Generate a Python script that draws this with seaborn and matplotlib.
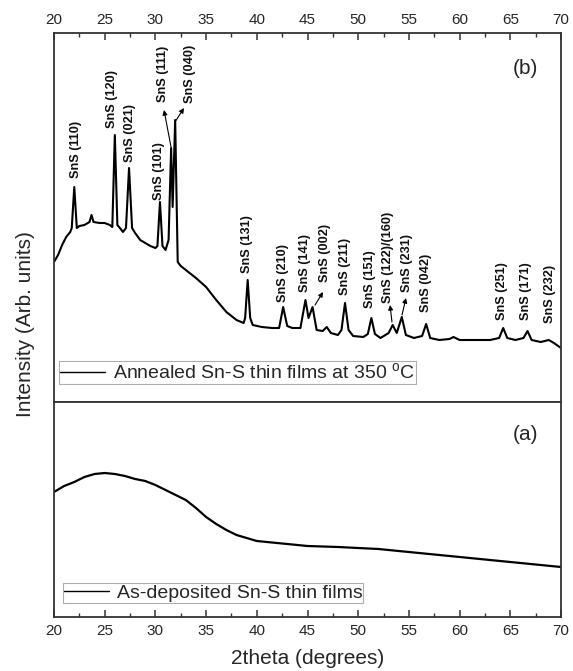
import matplotlib
matplotlib.use("Agg")
import matplotlib.pyplot as plt
import seaborn as sns
import pandas as pd
from matplotlib.ticker import MultipleLocator

sns.set_style("ticks")
plt.rcParams['font.family'] = ['Liberation Sans', 'DejaVu Sans']
plt.rcParams['mathtext.fontset'] = 'custom'
plt.rcParams['mathtext.rm'] = 'Liberation Sans'

# ---------------- data ----------------
# (b) annealed film
ann_2theta = [20.0, 20.4, 20.8, 21.2, 21.6, 21.75, 22.0, 22.25, 22.5, 23.0, 23.5, 23.7, 23.9,
              24.5, 25.0, 25.5, 25.75, 26.0, 26.25, 26.5, 26.8, 27.1, 27.4, 27.7, 28.0, 28.5,
              29.0, 29.5, 30.0, 30.2, 30.45, 30.7, 31.0, 31.3, 31.55, 31.7, 31.95, 32.2, 32.5,
              33.0, 34.0, 35.0, 36.0, 37.0, 38.0, 38.7, 38.85, 39.1, 39.35, 39.6, 40.5, 41.5,
              42.2, 42.6, 43.0, 43.5, 44.3, 44.8, 45.1, 45.5, 45.9, 46.5, 46.9, 47.3, 48.0,
              48.35, 48.7, 49.05, 49.5, 50.5, 50.95, 51.3, 51.65, 52.2, 53.0, 53.4, 53.8, 54.3,
              54.7, 55.5, 56.3, 56.7, 57.1, 58.0, 59.0, 59.4, 60.0, 61.0, 62.0, 63.0, 63.9,
              64.3, 64.7, 65.5, 66.3, 66.7, 67.1, 68.0, 68.8, 69.3, 70.0]
ann_int = [140, 147, 157, 165, 170, 174, 215, 174, 176, 177, 180, 187, 180,
           179, 179, 177, 175, 267, 177, 174, 170, 174, 234, 174, 169, 162,
           159, 156, 154, 156, 200, 156, 152, 162, 254, 195, 282, 140, 136,
           132, 124, 115, 102, 90, 82, 79, 84, 122, 84, 77, 75, 74,
           74, 95, 76, 74, 74, 102, 84, 95, 72, 71, 75, 69, 67,
           72, 99, 72, 66, 65, 68, 84, 68, 64, 69, 77, 69, 85,
           67, 64, 66, 78, 64, 62, 63, 65, 62, 62, 62, 62, 64,
           74, 64, 62, 64, 71, 62, 60, 62, 59, 54]

# (a) as-deposited film
dep_2theta = [20, 21, 22, 23, 24, 25, 26, 27, 28, 29, 30, 31, 32, 33, 34, 35, 36, 37, 38,
              39, 40, 42, 45, 48, 50, 52, 55, 58, 60, 62, 65, 68, 70]
dep_int = [125, 131, 135, 140, 143, 144, 143, 141, 138, 136, 132, 127, 122, 117, 109, 100,
           93, 87, 82, 79, 76, 74, 71, 70, 69, 68, 65, 62, 60, 58, 55, 52, 50]

# peak labels
peak_labels = ["SnS (110)", "SnS (120)", "SnS (021)", "SnS (101)", "SnS (111)", "SnS (040)",
               "SnS (131)", "SnS (210)", "SnS (141)", "SnS (002)", "SnS (211)", "SnS (151)",
               "SnS (122)/(160)", "SnS (231)", "SnS (042)", "SnS (251)", "SnS (171)", "SnS (232)"]
label_x = [22.17, 25.72, 27.5, 30.35, 30.75, 33.4, 39.03, 42.58, 44.75, 46.73, 48.7, 51.16,
           52.94, 54.81, 56.69, 64.18, 66.55, 68.92]
label_y = [224, 274, 240, 202, 300, 299, 129, 100, 110, 120, 107, 94, 99, 110, 90, 82, 82, 79]

# arrows: (tail x, tail y, head x, head y)
arrows = [(31.54, 255, 30.85, 292), (31.93, 280, 32.82, 294), (45.74, 97, 46.53, 110),
          (53.33, 80, 53.14, 97), (54.32, 87, 54.71, 104)]

ann_df = pd.DataFrame({"2theta": ann_2theta, "I": ann_int})
dep_df = pd.DataFrame({"2theta": dep_2theta, "I": dep_int})

# ---------------- figure ----------------
W, H = 573, 671
fig = plt.figure(figsize=(W / 100, H / 100), dpi=100)
L, R = 54 / W, 561 / W
ax_b = fig.add_axes([L, (H - 402) / H, R - L, 369 / H])
ax_a = fig.add_axes([L, (H - 617) / H, R - L, 215 / H])

spine_c = '#333333'
for ax in (ax_a, ax_b):
    ax.set_xlim(20, 70)
    ax.xaxis.set_major_locator(MultipleLocator(5))
    ax.xaxis.set_minor_locator(MultipleLocator(2.5))
    ax.set_yticks([])
    for s in ax.spines.values():
        s.set_color(spine_c)
        s.set_linewidth(1.3)

sns.lineplot(data=ann_df, x="2theta", y="I", ax=ax_b, color='black', lw=1.5,
             label="Annealed Sn-S thin films at 350 $^{\\rm o}$C")
sns.lineplot(data=dep_df, x="2theta", y="I", ax=ax_a, color='black', lw=1.6,
             label="As-deposited Sn-S thin films")

ax_b.set_ylim(0, 369)
ax_a.set_ylim(0, 215)
for ax in (ax_a, ax_b):
    ax.set_xlabel("")
    ax.set_ylabel("")
    ax.set_yticks([])

ax_b.tick_params(axis='x', which='both', direction='in', top=True, bottom=False,
                 labeltop=True, labelbottom=False, labelsize=11, color=spine_c, pad=4)
ax_b.tick_params(axis='x', which='major', length=5, width=1.1)
ax_b.tick_params(axis='x', which='minor', length=3, width=1.0)
ax_a.tick_params(axis='x', which='both', direction='in', top=False, bottom=True,
                 labelsize=11, color=spine_c, pad=5)
ax_a.tick_params(axis='x', which='major', length=5, width=1.1)
ax_a.tick_params(axis='x', which='minor', length=3, width=1.0)

fig.text((L + R) / 2, 1 - 659 / H, "2theta (degrees)", fontsize=15,
         ha='center', va='center')
fig.text(26 / W, 1 - 324 / H, "Intensity (Arb. units)", rotation=90, fontsize=15,
         ha='center', va='center')

for lab, x, y in zip(peak_labels, label_x, label_y):
    ax_b.text(x, y, lab, rotation=90, ha='center', va='bottom', fontsize=9.2,
              fontweight='bold', color='#111111')
for tx, ty, hx, hy in arrows:
    ax_b.annotate('', xy=(hx, hy), xytext=(tx, ty),
                  arrowprops=dict(arrowstyle='-|>', color='black', lw=0.8,
                                  mutation_scale=7, shrinkA=0, shrinkB=0))

ax_b.text(0.955, 0.905, "(b)", transform=ax_b.transAxes, fontsize=15, ha='right', va='center')
ax_a.text(0.955, 0.85, "(a)", transform=ax_a.transAxes, fontsize=15, ha='right', va='center')

for ax, anchor in ((ax_b, (0.01, 0.05)), (ax_a, (0.018, 0.065))):
    leg = ax.legend(loc='lower left', bbox_to_anchor=anchor, borderaxespad=0, fontsize=14,
                    frameon=True, fancybox=False, borderpad=0.05, handlelength=2.3,
                    handletextpad=0.4)
    leg.get_frame().set_edgecolor('#999999')
    leg.get_frame().set_linewidth(0.8)
    for line in leg.get_lines():
        line.set_linewidth(1.0)

fig.savefig("out.png", dpi=100)
